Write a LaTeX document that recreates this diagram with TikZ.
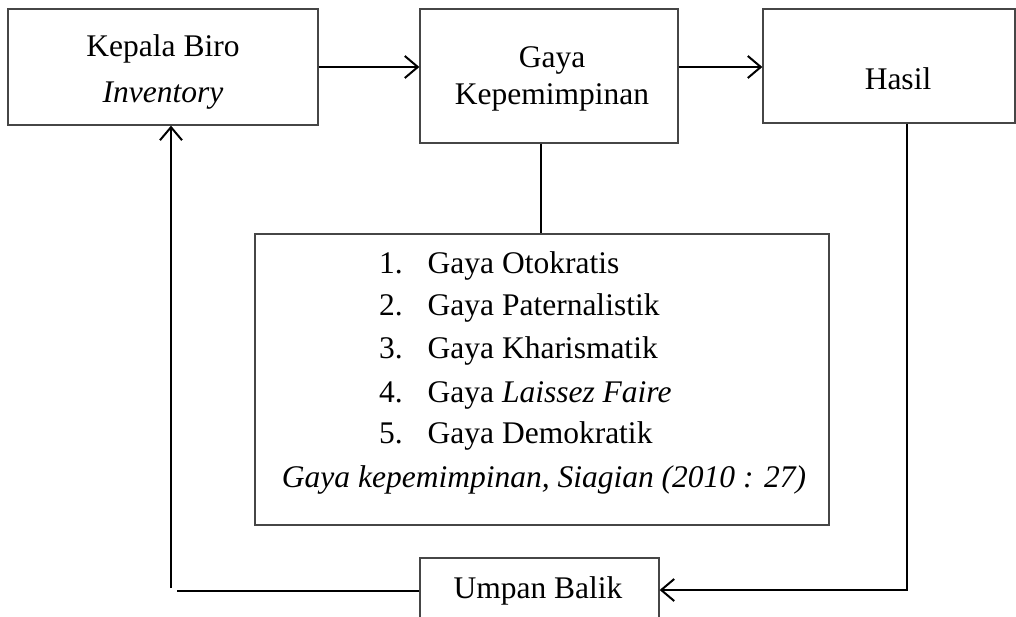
\documentclass[tikz,border=0pt]{standalone}
\usepackage{fontspec}
\setmainfont{Liberation Serif}
\usetikzlibrary{arrows.meta}
\definecolor{boxgray}{RGB}{70,70,70}
\begin{document}
\begin{tikzpicture}[x=1pt,y=-1pt,
  frame/.style={draw=boxgray,line width=1.3pt,inner sep=0pt},
  txt/.style={inner sep=0pt,font=\fontsize{31.5}{40}\selectfont},
  conn/.style={line width=2pt,draw=black},
  tip/.style={-{Straight Barb[length=13pt,width=22pt]}}]
\useasboundingbox (0,0) rectangle (1016,617);
\clip (0,0) rectangle (1016,617);
\fill[white] (0,0) rectangle (1016,617);
% boxes
\node[frame,minimum width=310pt,minimum height=116pt] (kb) at (163,67) {};
\node[frame,minimum width=258pt,minimum height=134pt] (gk) at (549,76) {};
\node[frame,minimum width=252pt,minimum height=114pt] (hs) at (889,66) {};
\node[frame,minimum width=574pt,minimum height=291pt] (lst) at (542,379.5) {};
\node[frame,minimum width=239pt,minimum height=68pt] (ub) at (539.5,592) {};
% texts
\node[txt,anchor=base] (kb1) at (163,57) {Kepala Biro};
\node[txt,anchor=base] (kb2) at (163,103) {\itshape Inventory};
\node[txt,anchor=base] (gk1) at (552,68) {Gaya};
\node[txt,anchor=base] (gk2) at (552,105) {Kepemimpinan};
\node[txt,anchor=base] (hs1) at (898,90) {Hasil};
\node[txt,anchor=base west] (l1) at (379,273) {\makebox[48.5pt][l]{1.}Gaya Otokratis};
\node[txt,anchor=base west] (l2) at (379,316) {\makebox[48.5pt][l]{2.}Gaya Paternalistik};
\node[txt,anchor=base west] (l3) at (379,358) {\makebox[48.5pt][l]{3.}Gaya Kharismatik};
\node[txt,anchor=base west] (l4) at (379,402) {\makebox[48.5pt][l]{4.}Gaya \textit{Laissez Faire}};
\node[txt,anchor=base west] (l5) at (379,443) {\makebox[48.5pt][l]{5.}Gaya Demokratik};
\node[txt,anchor=base] (cit) at (544,487) {\itshape Gaya kepemimpinan, Siagian (2010 : 27)};
\node[txt,anchor=base] (ub1) at (538,598) {Umpan Balik};
% connectors
\coordinate (c1) at (541,0);
\coordinate (c2) at (907,590);
\coordinate (c3) at (171,588);
\coordinate (c4) at (177,591);
\draw[conn,tip] (kb.east) -- (kb.east -| gk.west);
\draw[conn,tip] (gk.east |- kb.east) -- (hs.west |- kb.east);
\draw[line width=1.5pt] (gk.south -| c1) -- (lst.north -| c1);
\draw[conn,tip] (hs.south -| c2) -- (c2) -- (c2 -| ub.east);
\draw[conn] (ub.west |- c4) -- (c4);
\draw[conn,tip] (c3) -- (c3 |- kb.south);
\end{tikzpicture}
\end{document}
